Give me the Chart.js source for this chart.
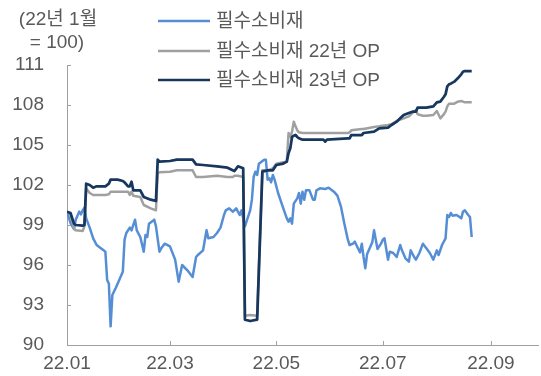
<!DOCTYPE html>
<html lang="ko">
<head>
<meta charset="utf-8">
<script src="https://cdn.jsdelivr.net/npm/chart.js@4.4.1/dist/chart.umd.min.js"></script>
<style>
  html,body{margin:0;padding:0;background:#fff;}
  #wrap{width:541px;height:376px;position:relative;}
</style>
</head>
<body>
<div id="wrap"><canvas id="chart"></canvas></div>
<script>
/* 필수소비재 지수 vs 22년/23년 OP 추정치 (22년 1월 = 100) */

// 월 눈금 (22년 1월 1일 기준 일수)
const TICK_DATES  = ["01-01", "03-01", "05-01", "07-01", "09-01"];
const TICK_LABELS = ["22.01", "22.03", "22.05", "22.07", "22.09"];

// 필수소비재 지수
const IDX_DATES = [
  "01-01","01-03","01-05","01-06","01-08","01-09","01-10","01-11","01-12","01-14","01-16","01-18","01-20","01-22","01-23","01-24","01-25","01-26","01-27","01-29","01-31",
  "02-02","02-03","02-04","02-06","02-07","02-09","02-10","02-12","02-14","02-15","02-16","02-17","02-20","02-21","02-23","02-24","02-26",
  "03-01","03-04","03-06","03-08","03-11","03-14","03-16","03-17","03-20","03-22","03-23","03-26","03-28","03-30",
  "04-01","04-02","04-04","04-06","04-07","04-08","04-10","04-11","04-13","04-16","04-17","04-18","04-19","04-20","04-21","04-24","04-25","04-26","04-27","04-28","04-29","04-30",
  "05-02","05-05","05-07","05-08","05-09","05-10","05-11","05-13","05-14","05-15","05-16","05-17","05-18","05-20","05-22","05-23","05-24","05-26","05-29","05-31",
  "06-03","06-05","06-07","06-09","06-11","06-12","06-14","06-15","06-17","06-18","06-19","06-20","06-21","06-22","06-24","06-25","06-26","06-28","06-30",
  "07-01","07-02","07-04","07-05","07-07","07-09","07-11","07-12","07-14","07-16","07-17","07-19","07-20","07-22","07-23","07-24","07-26","07-28","07-30",
  "08-01","08-02","08-04","08-06","08-07","08-08","08-09","08-10","08-12","08-13","08-15","08-16","08-17","08-19","08-20","08-21"
];
const IDX_VALUES = [
  100.0, 99.15, 98.7, 99.4, 100.0, 99.8, 100.1, 100.3, 99.5, 98.8, 98.0, 97.5, 97.3, 97.1, 97.0, 94.9, 94.6, 91.4, 93.75, 94.3, 94.9,
  95.5, 97.9, 98.4, 98.8, 98.6, 99.4, 98.6, 98.1, 97.0, 98.25, 98.1, 99.1, 99.4, 98.9, 97.0, 97.25, 97.6,
  97.4, 96.4, 94.75, 96.0, 95.6, 95.1, 96.6, 96.75, 97.1, 98.6, 98.0, 98.1, 98.4, 98.8,
  99.75, 100.1, 100.25, 100.0, 100.1, 100.25, 99.75, 100.1, 98.9, 100.1, 100.9, 102.6, 103.0, 102.75, 103.6, 103.9, 103.9, 102.4, 102.5, 102.2, 102.75, 102.4,
  101.4, 100.25, 99.5, 99.25, 99.5, 99.1, 100.6, 101.0, 101.4, 100.6, 101.5, 100.9, 101.6, 101.6, 100.9, 100.9, 101.6, 101.75, 101.7, 101.8,
  101.5, 101.2, 100.4, 99.1, 97.9, 97.5, 97.6, 97.75, 97.2, 96.95, 97.6, 96.6, 95.75, 96.8, 97.4, 97.7, 98.6, 97.2, 97.6,
  97.9, 98.0, 96.4, 97.0, 96.9, 96.6, 97.5, 97.1, 96.5, 96.25, 97.1, 96.6, 96.4, 96.9, 97.25, 97.6, 97.25, 96.9, 96.4,
  97.1, 96.75, 97.5, 98.0, 99.75, 99.6, 99.9, 99.7, 99.75, 99.7, 99.5, 100.0, 100.1, 99.75, 99.6, 98.1
];

// OP 추정치 (22년 / 23년)
const OP_DATES = [
  "01-01","01-03","01-05","01-06","01-10","01-11","01-12","01-14","01-16","01-18","01-23","01-25","01-26","01-30",
  "02-02","02-03","02-05","02-06","02-07","02-08","02-12","02-14","02-18","02-21","02-22","02-23",
  "03-01","03-05","03-14","03-16","03-20","03-28",
  "04-03","04-06","04-07","04-09","04-12","04-13","04-16","04-20","04-23","04-26","04-29",
  "05-01","05-05","05-07","05-08","05-09","05-10","05-11","05-12","05-13","05-14","05-16","05-28","05-29","05-30",
  "06-11","06-12","06-13","06-19","06-20","06-26","06-29",
  "07-04","07-06","07-09","07-11","07-13","07-16","07-18","07-20","07-21","07-24","07-26","07-30",
  "08-01","08-03","08-05","08-06","08-07","08-08","08-09","08-11","08-13","08-15","08-16","08-17","08-19","08-21"
];
const OP22_VALUES = [
  100.0, 99.8, 98.75, 98.6, 98.55, 98.9, 101.75, 101.4, 101.25, 101.25, 101.25, 101.3, 101.5, 101.5,
  101.5, 101.5, 101.5, 101.25, 101.5, 101.2, 101.1, 100.5, 100.25, 100.1, 102.9, 102.95,
  103.0, 103.1, 103.1, 102.6, 102.6, 102.7,
  102.6, 102.6, 102.7, 102.7, 102.6, 92.2, 92.25, 92.2, 103.1, 103.1, 103.25,
  103.6, 103.7, 103.75, 105.9, 105.6, 106.0, 106.75, 106.4, 106.1, 105.95, 105.9, 105.9, 105.9, 105.9,
  105.9, 105.95, 106.1, 106.2, 106.2, 106.35, 106.4,
  106.5, 106.55, 106.8, 106.9, 107.0, 107.15, 107.4, 107.6, 107.3, 107.2, 107.2, 107.25,
  107.55, 107.0, 107.3, 107.5, 107.9, 108.1, 108.1, 108.1, 108.25, 108.3, 108.25, 108.2, 108.2, 108.2
];
const OP23_VALUES = [
  100.0, 99.9, 99.1, 99.0, 98.95, 99.0, 102.1, 102.0, 101.8, 101.9, 101.9, 102.1, 102.4, 102.4,
  102.3, 102.2, 101.9, 101.9, 102.25, 101.6, 101.6, 101.1, 100.9, 100.8, 103.9, 103.75,
  103.8, 103.9, 103.9, 103.55, 103.5, 103.4,
  103.3, 103.1, 103.05, 103.4, 103.25, 91.9, 91.8, 91.9, 103.0, 103.1, 103.1,
  103.5, 103.6, 103.75, 104.4, 104.75, 105.6, 105.7, 105.75, 105.6, 105.5, 105.4, 105.4, 105.25, 105.4,
  105.5, 105.5, 105.75, 105.75, 105.9, 106.0, 106.25,
  106.3, 106.5, 106.75, 107.0, 107.25, 107.4, 107.5, 107.5, 107.8, 107.8, 107.8, 107.9,
  108.2, 108.25, 108.6, 108.8, 109.4, 109.55, 109.6, 109.75, 110.0, 110.3, 110.5, 110.55, 110.55, 110.55
];

const SERIES_NAMES = ["필수소비재", "필수소비재 22년 OP", "필수소비재 23년 OP"];
const SERIES_COLORS = ["#558ed5", "#a0a0a0", "#17375e"];

const TEXT_COLOR = "#595959";
const AXIS_COLOR = "#a0a0a0";
const FONT_FAMILY = "'Liberation Sans', Arial, 'Noto Sans CJK KR', sans-serif";

// "MM-DD" -> 2022-01-01 기준 경과일
function dayOf(s){
  const [m, d] = s.split("-").map(Number);
  return (Date.UTC(2022, m - 1, d) - Date.UTC(2022, 0, 1)) / 864e5;
}
const toPts = (dates, vals) => dates.map((d, i) => ({ x: dayOf(d), y: vals[i] }));
const tickDays = TICK_DATES.map(dayOf);

const lineDs = (i, data, width, order) => ({
  label: SERIES_NAMES[i], data,
  borderColor: SERIES_COLORS[i], backgroundColor: SERIES_COLORS[i],
  borderWidth: width, pointRadius: 0, tension: 0, fill: false,
  borderJoinStyle: "round", order
});

// 안쪽 눈금, 단위 표기, 범례
const decorPlugin = {
  id: "decor",
  afterDraw(chart){
    const { ctx, chartArea, scales } = chart;
    ctx.save();
    ctx.strokeStyle = AXIS_COLOR; ctx.lineWidth = 1;
    ctx.beginPath();
    scales.y.ticks.forEach(t => {
      const py = Math.round(scales.y.getPixelForValue(t.value)) + 0.5;
      ctx.moveTo(chartArea.left, py); ctx.lineTo(chartArea.left + 4, py);
    });
    tickDays.slice(1).forEach(d => {
      const px = Math.round(scales.x.getPixelForValue(d)) + 0.5;
      ctx.moveTo(px, chartArea.bottom); ctx.lineTo(px, chartArea.bottom - 4);
    });
    ctx.stroke();

    ctx.fillStyle = TEXT_COLOR;
    ctx.font = "19px " + FONT_FAMILY;
    ctx.textAlign = "center"; ctx.textBaseline = "middle";
    ctx.fillText("(22년 1월", 58, 20);
    ctx.fillText("= 100)", 57, 43);

    const rows = [21, 51, 80];
    ctx.textAlign = "left";
    chart.data.datasets.forEach((ds, i) => {
      const y = rows[i];
      ctx.strokeStyle = ds.borderColor; ctx.lineWidth = 2.5;
      ctx.beginPath(); ctx.moveTo(158, y); ctx.lineTo(210, y); ctx.stroke();
      ctx.fillText(ds.label, 216, y + 1);
    });
    ctx.restore();
  }
};

Chart.defaults.font.family = FONT_FAMILY;
Chart.defaults.font.size = 19;
Chart.defaults.color = TEXT_COLOR;

new Chart(document.getElementById("chart"), {
  type: "line",
  data: {
    datasets: [
      lineDs(0, toPts(IDX_DATES, IDX_VALUES), 2.5, 3),
      lineDs(1, toPts(OP_DATES, OP22_VALUES), 2.5, 2),
      lineDs(2, toPts(OP_DATES, OP23_VALUES), 2.75, 1)
    ]
  },
  options: {
    responsive: true, maintainAspectRatio: false, animation: false,
    layout: { padding: { top: 65, right: 3, left: 0, bottom: 0 } },
    plugins: { legend: { display: false }, tooltip: { enabled: false } },
    scales: {
      x: {
        type: "linear", min: 0, max: 270,
        grid: { display: false, drawTicks: false },
        border: { display: true, color: AXIS_COLOR, width: 1 },
        afterBuildTicks: s => { s.ticks = tickDays.map(v => ({ value: v })); },
        afterFit: s => { s.height = 31; s.paddingRight = 0; },
        ticks: { autoSkip: false, maxRotation: 0, padding: 7,
          callback: v => TICK_LABELS[tickDays.indexOf(v)] ?? "" }
      },
      y: {
        min: 90, max: 111,
        grid: { display: false, drawTicks: false },
        border: { display: true, color: AXIS_COLOR, width: 1 },
        // 라벨 간격(padding)이 위아래 여백으로 번지지 않도록
        afterFit: s => { s.width = 67; s.paddingTop = 12; s.paddingBottom = 12; },
        ticks: { stepSize: 3, padding: 23 }
      }
    }
  },
  plugins: [decorPlugin]
});
</script>
</body>
</html>
